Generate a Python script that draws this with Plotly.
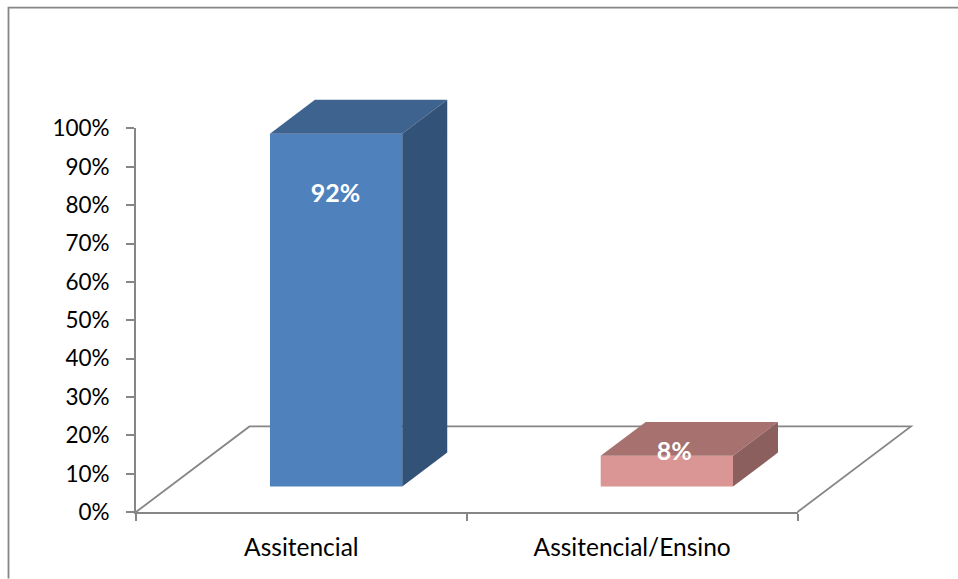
import plotly.graph_objects as go

# Chart data
categories = ["Assitencial", "Assitencial/Ensino"]
shares = [92, 8]
share_labels = ["92%", "8%"]
percent_ticks = [0, 10, 20, 30, 40, 50, 60, 70, 80, 90, 100]

# Page and plot geometry, in pixels
PAGE_W, PAGE_H = 958, 579
AXIS_LEFT, AXIS_BOTTOM = 136.0, 512.5
AXIS_W, AXIS_H = 661.5, 384.0
AREA_RIGHT, AREA_TOP = 940.0, 80.0      # room for the extruded faces and the floor
AREA_W = AREA_RIGHT - AXIS_LEFT
AREA_H = AXIS_BOTTOM - AREA_TOP

# Faux-3D geometry, in axis units
BAR_WIDTH = 0.4
BAR_SHIFT = 0.105       # bars sit slightly right of the category centre
BASE = 6.64             # bars stand on the floor plane, above the axis
DEPTH_X = 0.136
DEPTH_Y = 8.85
FLOOR_X = 0.343
FLOOR_Y = 22.3
LABEL_Y = [82.4, 15.2]
LABEL_SHIFT = [-0.002, 0.022]

FRONT = ["#4F81BD", "#D99694"]
TOP = ["#3F638F", "#A6716F"]
SIDE = ["#335278", "#8B5F5E"]
GREY = "#868686"
LINE_W = 1.8
FONT = "Lato, Carlito, Calibri, sans-serif"

n = len(categories)
x_per_px = n / AXIS_W
y_per_px = 100 / AXIS_H
positions = [i + 0.5 + BAR_SHIFT for i in range(n)]

fig = go.Figure()

# Front faces on the visible axes
fig.add_trace(go.Bar(
    x=positions, y=shares, base=BASE, width=BAR_WIDTH,
    marker=dict(color=FRONT, line_width=0),
    hoverinfo="skip", showlegend=False,
))

# Top and side faces go on a hidden pair of axes with the same scale but a
# larger extent, because filled scatter paths are always clipped to their axes
for pos, val, top_c, side_c in zip(positions, shares, TOP, SIDE):
    left, right = pos - BAR_WIDTH / 2, pos + BAR_WIDTH / 2
    high = BASE + val
    fig.add_trace(go.Scatter(
        x=[left, left + DEPTH_X, right + DEPTH_X, right, left],
        y=[high, high + DEPTH_Y, high + DEPTH_Y, high, high],
        xaxis="x2", yaxis="y2",
        mode="lines", fill="toself", fillcolor=top_c, line=dict(width=0, color=top_c),
        hoverinfo="skip", showlegend=False,
    ))
    fig.add_trace(go.Scatter(
        x=[right, right + DEPTH_X, right + DEPTH_X, right, right],
        y=[BASE, BASE + DEPTH_Y, high + DEPTH_Y, high, BASE],
        xaxis="x2", yaxis="y2",
        mode="lines", fill="toself", fillcolor=side_c, line=dict(width=0, color=side_c),
        hoverinfo="skip", showlegend=False,
    ))

# Value labels
fig.add_trace(go.Scatter(
    x=[p + s for p, s in zip(positions, LABEL_SHIFT)],
    y=LABEL_Y, text=share_labels, mode="text", textposition="middle center",
    xaxis="x2", yaxis="y2",
    textfont=dict(family=FONT, size=25, color="white", weight="bold"),
    hoverinfo="skip", showlegend=False,
))

# Paper coordinates span the enlarged plotting area
def px_x(x):
    return (x - AXIS_LEFT) / AREA_W

def px_y(y):
    return (AXIS_BOTTOM - y) / AREA_H

fx = AXIS_W / AREA_W / n
fy = AXIS_H / AREA_H / 100
floor_path = (
    f"M 0 0 L {FLOOR_X / x_per_px / AREA_W} {FLOOR_Y * fy} "
    f"L {n * fx + FLOOR_X / x_per_px / AREA_W} {FLOOR_Y * fy} L {n * fx} 0"
)
# Outer frame runs off the top right of the page
frame_path = (
    f"M {px_x(8.5)} {px_y(PAGE_H)} L {px_x(8.5)} {px_y(7.5)} L {px_x(PAGE_W)} {px_y(7.5)}"
)

fig.update_layout(
    width=PAGE_W, height=PAGE_H, autosize=False,
    margin=dict(l=AXIS_LEFT, r=PAGE_W - AREA_RIGHT, t=AREA_TOP, b=PAGE_H - AXIS_BOTTOM, pad=0),
    paper_bgcolor="white", plot_bgcolor="rgba(0,0,0,0)",
    font=dict(family=FONT, size=22, color="black"),
    showlegend=False,
    shapes=[
        dict(type="path", path=floor_path, xref="paper", yref="paper", layer="below",
             line=dict(color=GREY, width=LINE_W)),
        dict(type="path", path=frame_path, xref="paper", yref="paper", layer="below",
             line=dict(color=GREY, width=LINE_W)),
    ],
    xaxis=dict(
        domain=[0, AXIS_W / AREA_W], anchor="y",
        range=[0, n], tickmode="array", tickvals=[i + 0.5 for i in range(n)], ticktext=categories,
        ticks="", showgrid=False, zeroline=False, showline=True, linecolor=GREY, linewidth=LINE_W,
        minor=dict(tickmode="array", tickvals=list(range(n + 1)), ticks="outside",
                   ticklen=7, tickwidth=LINE_W, tickcolor=GREY, showgrid=False),
        ticklabelstandoff=13, tickfont=dict(family=FONT, size=24.5, color="black"),
        fixedrange=True,
    ),
    yaxis=dict(
        domain=[0, AXIS_H / AREA_H], anchor="x",
        range=[0, 100], tickmode="array", tickvals=percent_ticks,
        ticktext=[f"{t}%" for t in percent_ticks],
        ticks="outside", ticklen=8, tickwidth=LINE_W, tickcolor=GREY,
        showgrid=False, zeroline=False, showline=True, linecolor=GREY, linewidth=LINE_W,
        ticklabelstandoff=12, tickfont=dict(family=FONT, size=22.5, color="black"),
        fixedrange=True,
    ),
    xaxis2=dict(
        domain=[0, 1], anchor="y2", range=[0, AREA_W * x_per_px],
        visible=False, fixedrange=True,
    ),
    yaxis2=dict(
        domain=[0, 1], anchor="x2", range=[0, AREA_H * y_per_px],
        visible=False, fixedrange=True,
    ),
)

fig.write_html("out.html", config=dict(displayModeBar=False))
